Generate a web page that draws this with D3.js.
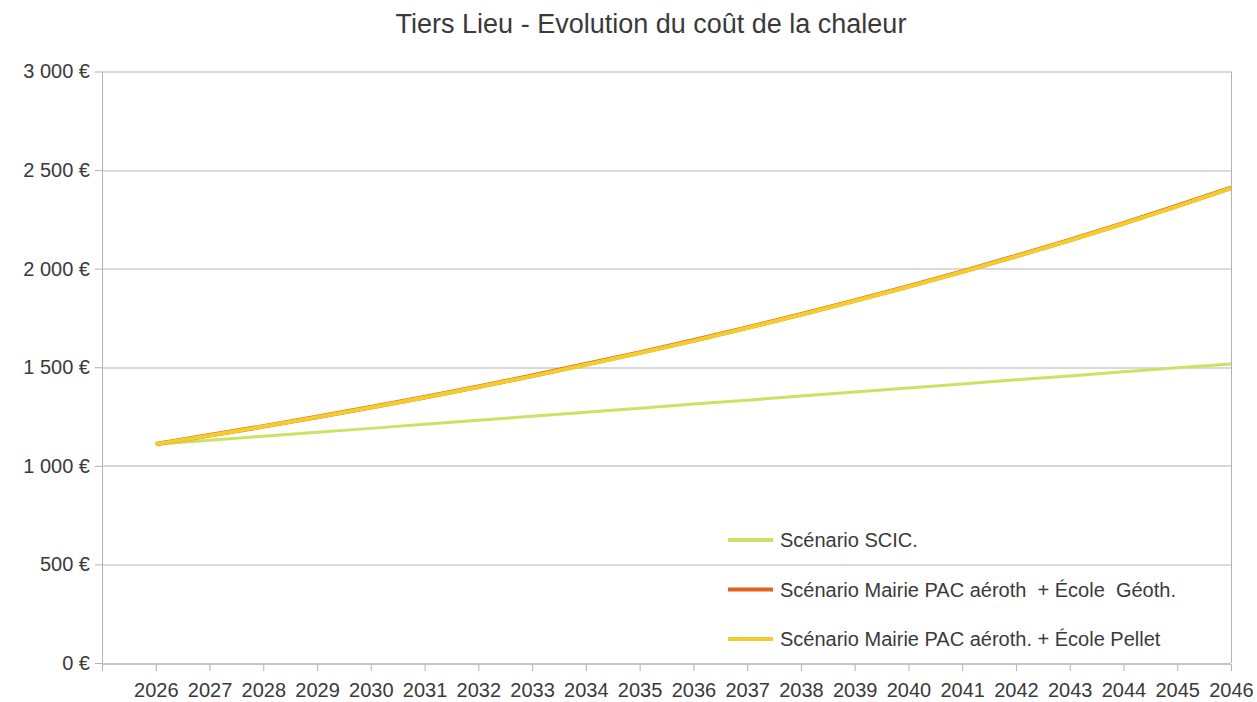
<!DOCTYPE html>
<html>
<head>
<meta charset="utf-8">
<title>Tiers Lieu - Evolution du coût de la chaleur</title>
<script src="https://cdn.jsdelivr.net/npm/d3@7"></script>
<style>
	body { margin: 0; background: #fff; }
	svg { display: block; font-family: "Liberation Sans", Arial, sans-serif; }
	.axis text { fill: #3a3a3a; font-size: 20px; }
	.axis line, .axis path { stroke: #b3b3b3; }
	.grid line { stroke: #b3b3b3; stroke-width: 1; }
	.legend-text { fill: #3a3a3a; font-size: 20px; white-space: pre; }
</style>
</head>
<body>
<div id="svg"></div>
<script>
///////////////////////////////////////////////////////////////////////////////
//// Data /////////////////////////////////////////////////////////////////////
///////////////////////////////////////////////////////////////////////////////
const years = [2026, 2027, 2028, 2029, 2030, 2031, 2032, 2033, 2034, 2035, 2036,
	2037, 2038, 2039, 2040, 2041, 2042, 2043, 2044, 2045, 2046];

const scic = [1110, 1130, 1150, 1170, 1190, 1211, 1231, 1251, 1272, 1292, 1313,
	1333, 1354, 1374, 1395, 1415, 1436, 1456, 1477, 1497, 1517];

const geoth = [1110, 1155, 1200, 1248, 1297, 1348, 1401, 1457, 1515, 1574, 1636,
	1701, 1768, 1838, 1910, 1985, 2064, 2145, 2230, 2318, 2410];

const pellet = [1110, 1154, 1199, 1247, 1296, 1347, 1400, 1455, 1513, 1572, 1634,
	1699, 1766, 1836, 1908, 1983, 2062, 2143, 2228, 2316, 2408];

const seriesNames = [
	"Scénario SCIC.",
	"Scénario Mairie PAC aéroth  + École  Géoth.",
	"Scénario Mairie PAC aéroth. + École Pellet"
];
const seriesColors = ["#cde264", "#e0621c", "#f3cd2a"];
const seriesWidths = [3, 4.5, 4];

const yTicks = [0, 500, 1000, 1500, 2000, 2500, 3000];

const title = "Tiers Lieu - Evolution du coût de la chaleur";

///////////////////////////////////////////////////////////////////////////////
//// Set Up ///////////////////////////////////////////////////////////////////
///////////////////////////////////////////////////////////////////////////////
const W = 1257, H = 702;
const margin = {top: 71.5, right: 26, bottom: 39, left: 102},
			width = W - margin.left - margin.right,
			height = H - margin.top - margin.bottom;

const x = d3.scaleLinear()
		.domain([years[0] - 1, years[years.length - 1]])
		.range([0, width]);

const y = d3.scaleLinear()
		.domain([0, 3000])
		.range([height, 0]);

const svg = d3.select("#svg")
	.append("svg")
		.attr("width", W)
		.attr("height", H);

svg.append("rect")
	.attr("width", W)
	.attr("height", H)
	.attr("fill", "#fff");

svg.append("text")
	.attr("x", 651)
	.attr("y", 33)
	.attr("text-anchor", "middle")
	.attr("fill", "#3a3a3a")
	.style("font-size", "27px")
	.text(title);

const g = svg.append("g")
	.attr("transform", `translate(${margin.left}, ${margin.top})`);

///////////////////////////////////////////////////////////////////////////////
// Grid
g.append("g")
		.attr("class", "grid")
	.selectAll("line")
	.data(yTicks)
	.enter()
	.append("line")
		.attr("x1", 0)
		.attr("x2", width)
		.attr("y1", d => Math.round(y(d)) + 0.5)
		.attr("y2", d => Math.round(y(d)) + 0.5);

// right border of the plot area
g.append("line")
	.attr("x1", width + 0.5)
	.attr("x2", width + 0.5)
	.attr("y1", 0)
	.attr("y2", height)
	.attr("stroke", "#b3b3b3");

///////////////////////////////////////////////////////////////////////////////
// Axes
const fmt = d3.format(",");

g.append("g")
		.attr("class", "y axis")
		.call(d3.axisLeft(y)
			.tickValues(yTicks)
			.tickSize(7)
			.tickPadding(5)
			.tickFormat(d => fmt(d).replace(/,/g, " ") + " €"))
		.call(a => a.select(".domain").attr("d", `M0.5,0V${height}`));

g.append("g")
		.attr("class", "x axis")
		.attr("transform", `translate(0, ${Math.round(height) + 0.5})`)
		.call(d3.axisBottom(x)
			.tickValues([years[0] - 1].concat(years))
			.tickSize(7)
			.tickPadding(12)
			.tickFormat(d => d < years[0] ? "" : d))
		.call(a => a.select(".domain").attr("d", `M0,0H${width}`));

///////////////////////////////////////////////////////////////////////////////
// Lines
const line = d3.line()
		.x((d, i) => x(years[i]))
		.y(d => y(d));

// orange drawn first, yellow almost on top of it
const seriesData = [scic, geoth, pellet];

seriesData.forEach((values, i) => {
	g.append("path")
		.datum(values)
		.attr("fill", "none")
		.attr("stroke", seriesColors[i])
		.attr("stroke-width", seriesWidths[i])
		.attr("stroke-linejoin", "round")
		.attr("d", line);
});

///////////////////////////////////////////////////////////////////////////////
//// Legend ///////////////////////////////////////////////////////////////////
///////////////////////////////////////////////////////////////////////////////
const legend = svg.selectAll(".legend")
	.data(seriesNames)
	.enter()
	.append("g")
		.attr("class", "legend")
		.attr("transform", (d, i) => `translate(728, ${540 + 49.5 * i})`);

legend.append("line")
	.attr("x1", 0)
	.attr("x2", 45)
	.attr("stroke", (d, i) => seriesColors[i])
	.attr("stroke-width", 4);

legend.append("text")
	.attr("class", "legend-text")
	.attr("x", 52)
	.attr("y", 7)
	.text(d => d);
</script>
</body>
</html>
